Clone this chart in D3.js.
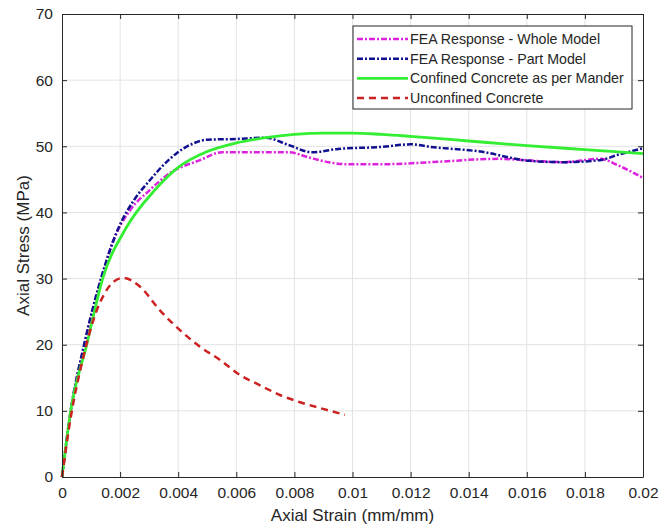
<!DOCTYPE html>
<html>
<head>
<meta charset="utf-8">
<script src="https://cdn.jsdelivr.net/npm/d3@7"></script>
<style>
  body { margin: 0; background: #fff; }
  svg { font-family: "Liberation Sans", Arial, sans-serif; }
</style>
</head>
<body>
<svg id="chart" width="662" height="531"></svg>
<script>
// strain (mm/mm) / stress (MPa) pairs
var wholeStrain = [0, 0.0003, 0.00077, 0.00136, 0.0017, 0.00234, 0.003, 0.0037, 0.00475, 0.0055, 0.0065, 0.0078, 0.0085, 0.0093, 0.0097, 0.0112, 0.0127, 0.015, 0.01725, 0.0185, 0.0192, 0.02];
var wholeStress = [0, 10, 20, 30, 35, 40.3, 43.3, 45.9, 47.9, 49.1, 49.1, 49.1, 48.3, 47.5, 47.3, 47.3, 47.6, 48.1, 47.6, 48.1, 47.0, 45.2];

var partStrain = [0, 0.0003, 0.00076, 0.00134, 0.00196, 0.0025, 0.00303, 0.0035, 0.00396, 0.0045, 0.005, 0.006, 0.007, 0.0078, 0.0086, 0.0095, 0.011, 0.012, 0.0127, 0.0144, 0.0161, 0.01725, 0.0185, 0.0192, 0.02];
var partStress = [0, 10, 20, 30, 37.8, 42, 44.9, 47.2, 49, 50.4, 51, 51.1, 51.3, 50.2, 49.1, 49.6, 49.9, 50.3, 49.9, 49.2, 47.8, 47.6, 47.9, 48.8, 49.7];

var manderStrain = [0, 0.0003, 0.00085, 0.0014, 0.0022, 0.0032, 0.004, 0.005, 0.006, 0.007, 0.008, 0.009, 0.01, 0.011, 0.012, 0.014, 0.016, 0.018, 0.02];
var manderStress = [0, 10, 20, 30, 37.6, 43.4, 46.8, 49.2, 50.5, 51.3, 51.8, 52, 52, 51.8, 51.5, 50.8, 50.1, 49.5, 48.9];

var unconfStrain = [0, 0.0003, 0.0007, 0.0011, 0.0015, 0.0018, 0.0021, 0.00268, 0.00337, 0.00406, 0.00475, 0.00544, 0.00613, 0.0068, 0.0075, 0.0082, 0.0089, 0.00974];
var unconfStress = [0, 9, 17.5, 24, 28, 29.6, 30.1, 28.8, 25.2, 22.2, 19.7, 17.7, 15.4, 13.9, 12.4, 11.3, 10.4, 9.4];

var xTicks = [0, 0.002, 0.004, 0.006, 0.008, 0.01, 0.012, 0.014, 0.016, 0.018, 0.02];
var yTicks = [0, 10, 20, 30, 40, 50, 60, 70];

var seriesNames = ["FEA Response - Whole Model", "FEA Response - Part Model", "Confined Concrete as per Mander", "Unconfined Concrete"];

var series = [
  { name: seriesNames[0], x: wholeStrain, y: wholeStress, color: "#dd22dd", dash: "6,2,2,2", width: 2.5 },
  { name: seriesNames[1], x: partStrain, y: partStress, color: "#101090", dash: "6,2,2,2", width: 2.5 },
  { name: seriesNames[2], x: manderStrain, y: manderStress, color: "#33ee33", dash: null, width: 2.8 },
  { name: seriesNames[3], x: unconfStrain, y: unconfStress, color: "#cc2222", dash: "7,5", width: 2.5 }
];

var margin = { top: 14, right: 19, bottom: 54, left: 62 };
var W = 662, H = 531;
var width = W - margin.left - margin.right,
    height = H - margin.top - margin.bottom;
var axisColor = "#262626";

var svg = d3.select("#chart");
var g = svg.append("g").attr("transform", "translate(" + margin.left + "," + margin.top + ")");

var x = d3.scaleLinear().domain([0, 0.02]).range([0, width]);
var y = d3.scaleLinear().domain([0, 70]).range([height, 0]);

// grid
g.append("g").selectAll("line").data(xTicks.slice(1, -1)).enter().append("line")
  .attr("x1", d => x(d)).attr("x2", d => x(d)).attr("y1", 0).attr("y2", height)
  .attr("stroke", "#e3e3e3").attr("stroke-width", 1);
g.append("g").selectAll("line").data(yTicks.slice(1, -1)).enter().append("line")
  .attr("y1", d => y(d)).attr("y2", d => y(d)).attr("x1", 0).attr("x2", width)
  .attr("stroke", "#e3e3e3").attr("stroke-width", 1);

// lines
var line = d3.line().curve(d3.curveMonotoneX);
series.forEach(function (s) {
  var pts = s.x.map((v, i) => [x(v), y(s.y[i])]);
  g.append("path").attr("d", line(pts))
    .attr("fill", "none").attr("stroke", s.color).attr("stroke-width", s.width)
    .attr("stroke-dasharray", s.dash);
});

// axes with inward ticks, box all around
var xAxis = d3.axisBottom(x).tickValues(xTicks).tickSizeInner(-5).tickSizeOuter(0)
  .tickPadding(10).tickFormat(d => d === 0 ? "0" : d3.format("")(+d.toFixed(3)));
var yAxis = d3.axisLeft(y).tickValues(yTicks).tickSizeInner(-5).tickSizeOuter(0).tickPadding(9);

var gx = g.append("g").attr("transform", "translate(0," + height + ")").call(xAxis);
var gy = g.append("g").call(yAxis);
g.append("g").call(d3.axisTop(x).tickValues(xTicks).tickSizeInner(-5).tickSizeOuter(0).tickFormat(""));
g.append("g").attr("transform", "translate(" + width + ",0)")
  .call(d3.axisRight(y).tickValues(yTicks).tickSizeInner(-5).tickSizeOuter(0).tickFormat(""));

g.selectAll(".domain").attr("stroke", axisColor);
g.selectAll(".tick line").attr("stroke", axisColor);
g.selectAll(".tick text").attr("fill", axisColor).style("font-size", "15.5px").style("font-family", "Liberation Sans, Arial, sans-serif");

// axis titles
svg.append("text").attr("x", margin.left + width / 2).attr("y", 521)
  .attr("text-anchor", "middle").attr("fill", axisColor).style("font-size", "17px")
  .text("Axial Strain (mm/mm)");
svg.append("text").attr("transform", "translate(29," + (margin.top + height / 2) + ") rotate(-90)")
  .attr("text-anchor", "middle").attr("fill", axisColor).style("font-size", "17px")
  .text("Axial Stress (MPa)");

// legend
var lg = svg.append("g").attr("transform", "translate(353,26)");
lg.append("rect").attr("width", 279).attr("height", 83)
  .attr("fill", "#fff").attr("stroke", axisColor).attr("stroke-width", 1);
series.forEach(function (s, i) {
  var yy = 13 + i * 19.7;
  lg.append("line").attr("x1", 4).attr("x2", 55).attr("y1", yy).attr("y2", yy)
    .attr("stroke", s.color).attr("stroke-width", s.width).attr("stroke-dasharray", s.dash);
  lg.append("text").attr("x", 57).attr("y", yy + 5).attr("fill", axisColor)
    .style("font-size", "14.2px").text(s.name);
});
</script>
</body>
</html>
